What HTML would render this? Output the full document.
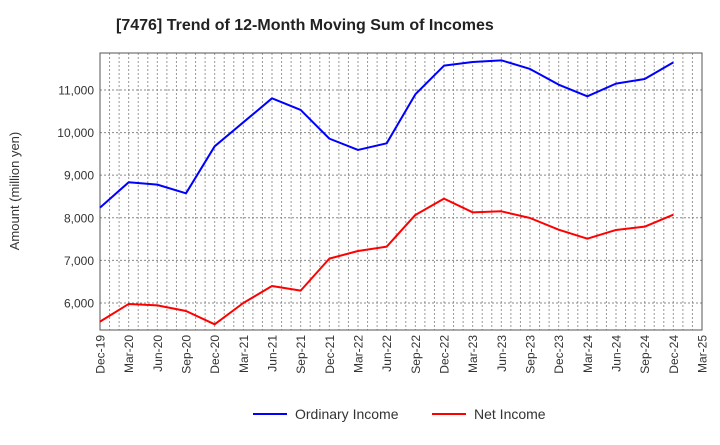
<!DOCTYPE html>
<html><head><meta charset="utf-8"><style>
body{margin:0;background:#fff;font-family:"Liberation Sans",sans-serif;}
svg text{font-family:"Liberation Sans",sans-serif;}
</style></head><body>
<svg id="chart" width="720" height="440" xmlns="http://www.w3.org/2000/svg">
<text x="116" y="30" font-size="16" font-weight="bold" fill="#222">[7476]  Trend of 12-Month Moving Sum of Incomes</text>
<text transform="translate(19,191) rotate(-90)" text-anchor="middle" font-size="13" fill="#333">Amount (million yen)</text>
<g id="grid"></g><g id="axes"></g><g id="series"></g>
<g>
<line x1="253" y1="414" x2="287" y2="414" stroke="#0000ff" stroke-width="2"/>
<text x="295" y="419" font-size="14" fill="#333">Ordinary Income</text>
<line x1="432" y1="414" x2="466" y2="414" stroke="#ff0000" stroke-width="2"/>
<text x="474" y="419" font-size="14" fill="#333">Net Income</text>
</g>
</svg>
<script>
const categories=["Dec-19","Mar-20","Jun-20","Sep-20","Dec-20","Mar-21","Jun-21","Sep-21","Dec-21","Mar-22","Jun-22","Sep-22","Dec-22","Mar-23","Jun-23","Sep-23","Dec-23","Mar-24","Jun-24","Sep-24","Dec-24","Mar-25"];
const ordinaryIncome=[8238,8833,8778,8574,9678,10241,10804,10531,9858,9592,9748,10898,11571,11657,11696,11493,11125,10851,11149,11258,11649];
const netIncome=[5562,5977,5945,5812,5499,6000,6399,6290,7041,7221,7322,8066,8449,8128,8152,7995,7721,7510,7714,7792,8073];
const yTicks=[6000,7000,8000,9000,10000,11000];
const yTickLabels=["6,000","7,000","8,000","9,000","10,000","11,000"];
const L=100,R=702,T=53,B=330,yMin=5366,yMax=11868;
const NS="http://www.w3.org/2000/svg";
const step=(R-L)/(categories.length-1);
function xs(i){return L+i*step;}
function ys(v){return B-(v-yMin)/(yMax-yMin)*(B-T);}
function mk(tag,attrs,parent){const e=document.createElementNS(NS,tag);for(const k in attrs)e.setAttribute(k,attrs[k]);parent.appendChild(e);return e;}
const grid=document.getElementById('grid'),axes=document.getElementById('axes'),series=document.getElementById('series');
mk('rect',{x:L,y:T,width:R-L,height:B-T,fill:'#fff'},grid);
for(let m=1;m<(categories.length-1)*3;m++){
 const x=L+m*step/3;
 const g=mk('line',{x1:x,y1:T,x2:x,y2:B,stroke:'#999','stroke-width':1,'stroke-dasharray':'2,2'},grid);
 
 
}
yTicks.forEach((v,i)=>{
 const y=ys(v);
 const g=mk('line',{x1:L,y1:y,x2:R,y2:y,stroke:'#888','stroke-width':1,'stroke-dasharray':'2,2'},grid);
 
 
 const t=mk('text',{x:L-6,y:y+4.5,'text-anchor':'end','font-size':12,fill:'#333'},axes);
 t.textContent=yTickLabels[i];
 
 
});
categories.forEach((c,i)=>{
 const x=xs(i);
 const t=mk('text',{transform:`translate(${x+4.5},${B+5}) rotate(-90)`,'text-anchor':'end','font-size':12,fill:'#333'},axes);
 t.textContent=c;
 
 
});
const fr=mk('rect',{x:L,y:T,width:R-L,height:B-T,fill:'none',stroke:'#555','stroke-width':1},axes);


function line(data,color,name){
 const p=mk('polyline',{points:data.map((v,i)=>xs(i)+','+ys(v)).join(' '),fill:'none',stroke:color,'stroke-width':2,'stroke-linejoin':'round'},series);
 
 
}
line(ordinaryIncome,'#0000ff','ordinary-income-line');
line(netIncome,'#ff0000','net-income-line');
</script>
</body></html>
